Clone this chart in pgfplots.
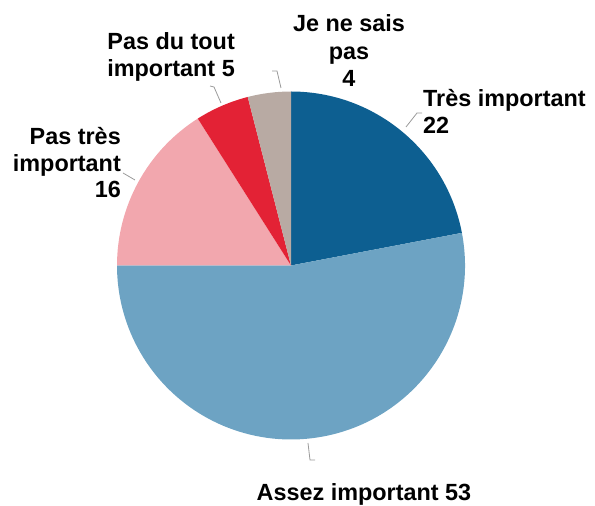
\documentclass[border=0pt]{standalone}
\usepackage{pgfplots}
\pgfplotsset{compat=1.18}
\usepackage{fontspec}
\setmainfont{Liberation Sans}

\definecolor{cTres}{HTML}{0D5F91}
\definecolor{cAssez}{HTML}{6DA3C3}
\definecolor{cPasTres}{HTML}{F2A7AE}
\definecolor{cPasTout}{HTML}{E32235}
\definecolor{cNSP}{HTML}{B8AAA3}
\definecolor{leader}{HTML}{9A9A9A}

\tikzset{lbl/.style={font=\fontsize{23.4}{27}\selectfont\bfseries, inner sep=0pt}}

% parts (%), clockwise from the top
\def\vTres{22}
\def\vAssez{53}
\def\vPasTres{16}
\def\vPasTout{5}
\def\vNSP{4}

\begin{document}
\begin{tikzpicture}
\useasboundingbox (0,0) rectangle (595pt,506pt);
\pgfmathsetmacro\aA{90}
\pgfmathsetmacro\aB{\aA-3.6*\vTres}
\pgfmathsetmacro\aC{\aB-3.6*\vAssez}
\pgfmathsetmacro\aD{\aC-3.6*\vPasTres}
\pgfmathsetmacro\aE{\aD-3.6*\vPasTout}
\pgfmathsetmacro\aF{\aE-3.6*\vNSP}
\begin{axis}[
    scale only axis,
    width=595pt, height=506pt,
    xmin=0, xmax=595, ymin=0, ymax=506,
    hide axis, clip=false,
  ]
  \addplot[draw=none] coordinates {(0,0) (595,506)};
  \fill[cTres]    (axis cs:291,240.5) -- ++(\aA:174pt) arc[start angle=\aA, end angle=\aB, radius=174pt] -- cycle;
  \fill[cAssez]   (axis cs:291,240.5) -- ++(\aB:174pt) arc[start angle=\aB, end angle=\aC, radius=174pt] -- cycle;
  \fill[cPasTres] (axis cs:291,240.5) -- ++(\aC:174pt) arc[start angle=\aC, end angle=\aD, radius=174pt] -- cycle;
  \fill[cPasTout] (axis cs:291,240.5) -- ++(\aD:174pt) arc[start angle=\aD, end angle=\aE, radius=174pt] -- cycle;
  \fill[cNSP]     (axis cs:291,240.5) -- ++(\aE:174pt) arc[start angle=\aE, end angle=\aF, radius=174pt] -- cycle;

  % leader lines
  \draw[leader, line width=0.8pt] (axis cs:422,393) -- (axis cs:417,393) -- (axis cs:406,379);
  \draw[leader, line width=0.8pt] (axis cs:272,435) -- (axis cs:277,435) -- (axis cs:281,418);
  \draw[leader, line width=0.8pt] (axis cs:210,420) -- (axis cs:214,419) -- (axis cs:221,403);
  \draw[leader, line width=0.8pt] (axis cs:123,333) -- (axis cs:135,326);
  \draw[leader, line width=0.8pt] (axis cs:308,63) -- (axis cs:310,46) -- (axis cs:315,46);

  % labels
  \node[lbl, anchor=base] at (axis cs:349,474) {Je ne sais};
  \node[lbl, anchor=base] at (axis cs:349,446) {pas};
  \node[lbl, anchor=base] at (axis cs:349,419) {\vNSP};
  \node[lbl, anchor=base west] at (axis cs:423,399) {Très important};
  \node[lbl, anchor=base west] at (axis cs:423,372) {\vTres};
  \node[lbl, anchor=base east] at (axis cs:235,456) {Pas du tout};
  \node[lbl, anchor=base east] at (axis cs:235,429) {important \vPasTout};
  \node[lbl, anchor=base east] at (axis cs:121,361) {Pas très};
  \node[lbl, anchor=base east] at (axis cs:121,334) {important};
  \node[lbl, anchor=base east] at (axis cs:121,308) {\vPasTres};
  \node[lbl, anchor=base] at (axis cs:364,5.5) {Assez important \vAssez};
\end{axis}
\end{tikzpicture}
\end{document}
